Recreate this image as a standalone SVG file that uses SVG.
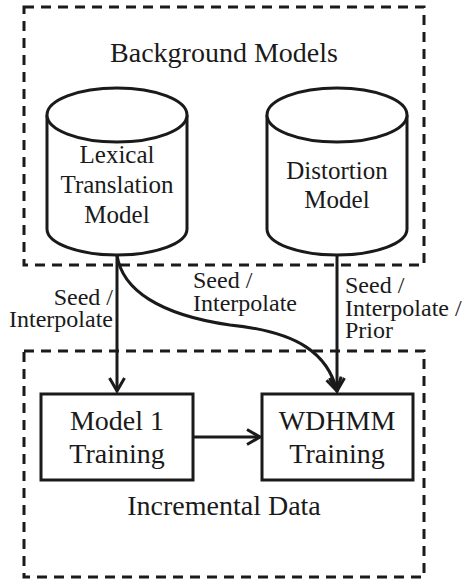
<svg xmlns="http://www.w3.org/2000/svg" width="468" height="580" viewBox="0 0 468 580">
<style>
text{font-family:"Liberation Serif","Times New Roman",serif;fill:#1a1a1a}
.dash{fill:none;stroke:#1a1a1a;stroke-width:3;stroke-dasharray:10 7}
.shape{fill:#fff;stroke:#1a1a1a;stroke-width:3}
.conn{fill:none;stroke:#1a1a1a;stroke-width:3}
.t24{font-size:24px}
.t25{font-size:25px}
.t28{font-size:28px}
</style>
<defs>
<marker id="arr" markerUnits="userSpaceOnUse" markerWidth="20" markerHeight="20" viewBox="-16 -10 20 20" refX="0" refY="0" orient="auto">
<path d="M-13,-7.5 L0,0 L-13,7.5" fill="none" stroke="#1a1a1a" stroke-width="3"/>
</marker>
</defs>
<rect id="background-models" class="dash" x="24" y="7" width="400" height="258"/>
<rect id="incremental-data" class="dash" x="24" y="351" width="400" height="226"/>
<text x="224" y="62" text-anchor="middle" class="t28">Background Models</text>
<text x="224" y="515" text-anchor="middle" class="t28">Incremental Data</text>
<g id="lexical">
<path class="shape" d="M47,115 L47,229 A70,26 0 0 0 187,229 L187,115"/>
<ellipse class="shape" cx="117" cy="115" rx="70" ry="27"/>
<text x="117" y="163" text-anchor="middle" class="t25">Lexical</text>
<text x="117" y="193" text-anchor="middle" class="t25">Translation</text>
<text x="117" y="223" text-anchor="middle" class="t25">Model</text>
</g>
<g id="distortion">
<path class="shape" d="M267,115 L267,229 A70,26 0 0 0 407,229 L407,115"/>
<ellipse class="shape" cx="337" cy="115" rx="70" ry="27"/>
<text x="337" y="179" text-anchor="middle" class="t25">Distortion</text>
<text x="337" y="208" text-anchor="middle" class="t25">Model</text>
</g>
<g id="model1">
<rect class="shape" x="41" y="394" width="152" height="86"/>
<text x="117" y="430" text-anchor="middle" class="t28">Model 1</text>
<text x="117" y="463" text-anchor="middle" class="t28">Training</text>
</g>
<g id="wdhmm">
<rect class="shape" x="262" y="394" width="151" height="86"/>
<text x="337" y="430" text-anchor="middle" class="t28">WDHMM</text>
<text x="337" y="463" text-anchor="middle" class="t28">Training</text>
</g>
<g id="connectors">
<path class="conn" d="M117,255 L117,391" marker-end="url(#arr)"/>
<path class="conn" d="M337,255 L337,391" marker-end="url(#arr)"/>
<path class="conn" d="M117,255 C122,290 160,315 230,325 C300,332 328,355 337,391" marker-end="url(#arr)"/>
<path class="conn" d="M193,437 L260,437" marker-end="url(#arr)"/>
</g>
<g id="labels">
<text x="113" y="305" text-anchor="end" class="t24">Seed /</text>
<text x="113" y="327" text-anchor="end" class="t24">Interpolate</text>
<text x="193" y="288" class="t24">Seed /</text>
<text x="193" y="311" class="t24">Interpolate</text>
<text x="345" y="293" class="t24">Seed /</text>
<text x="345" y="316" class="t24">Interpolate /</text>
<text x="345" y="338" class="t24">Prior</text>
</g>
</svg>
